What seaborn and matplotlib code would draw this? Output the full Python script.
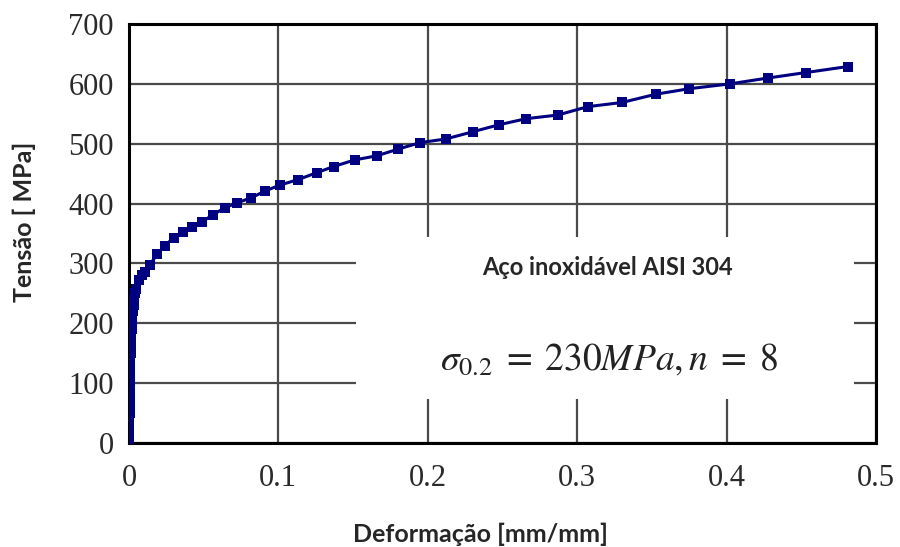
import numpy as np
import pandas as pd
import seaborn as sns
import matplotlib.pyplot as plt
from matplotlib.patches import Rectangle

# Curva tensão-deformação
deformacao = [0, 0.0001, 0.0002, 0.0002, 0.0003, 0.0004, 0.0004, 0.0005, 0.0006,
              0.0006, 0.0007, 0.0008, 0.0008, 0.0009, 0.0010, 0.0011, 0.0012,
              0.0013, 0.0015, 0.0017, 0.0020, 0.0023, 0.0027, 0.0031, 0.0036,
              0.0042, 0.005, 0.007, 0.009, 0.011, 0.014, 0.019,
              0.024, 0.030, 0.036, 0.042, 0.049, 0.056, 0.064, 0.072, 0.082,
              0.091, 0.101, 0.113, 0.126, 0.137, 0.151, 0.166, 0.180, 0.195,
              0.212, 0.230, 0.248, 0.266, 0.287, 0.307, 0.330, 0.353, 0.375,
              0.402, 0.428, 0.453, 0.481]
tensao = [0, 10, 20, 30, 40, 50, 60, 70, 80, 90, 100, 110, 120, 130, 140, 150,
          160, 170, 180, 190, 200, 210, 220, 230, 240, 250, 258, 272, 280,
          286, 298, 316, 330, 343, 353, 361, 370, 381, 393, 401, 410, 421, 431,
          440, 452, 462, 473, 480, 491, 502, 508, 520, 532, 542, 548, 562, 569,
          583, 592, 600, 610, 619, 629]

xticks = [0, 0.1, 0.2, 0.3, 0.4, 0.5]
xtick_labels = ["0", "0.1", "0.2", "0.3", "0.4", "0.5"]
yticks = [0, 100, 200, 300, 400, 500, 600, 700]

df = pd.DataFrame({"deformacao": deformacao, "tensao": tensao})

sns.set_style("white")
plt.rcParams["mathtext.fontset"] = "stix"

fig = plt.figure(figsize=(9, 5.47), dpi=100)
ax = fig.add_axes([0.1433, 0.190, 0.83, 0.766])

sns.lineplot(data=df, x="deformacao", y="tensao", ax=ax, color="#000080",
             marker="s", markersize=7.5, markeredgewidth=0, linewidth=2.2,
             estimator=None, zorder=3)

ax.set_xlim(0, 0.5)
ax.set_ylim(0, 700)
ax.set_xticks(xticks)
ax.set_xticklabels(xtick_labels)
ax.set_yticks(yticks)

ax.set_axisbelow(True)
ax.grid(True, color="#4a4a4a", linewidth=1.6)
for s in ax.spines.values():
    s.set_color("black")
    s.set_linewidth(2.2)

ax.tick_params(axis="both", direction="out", length=7, width=1.2, color="#777777",
               labelsize=22, labelcolor="#2a2a2a")
ax.tick_params(axis="x", pad=8)
ax.tick_params(axis="y", pad=4)
for lab in ax.get_xticklabels() + ax.get_yticklabels():
    lab.set_family("Liberation Serif")

# caixa branca que cobre a grade
ax.add_patch(Rectangle((0.152, 74), 0.333, 270, facecolor="white",
                       edgecolor="none", zorder=1))

ax.text(0.320, 293, "Aço inoxidável AISI 304", family="Lato", fontweight="bold",
        fontsize=17, ha="center", va="center", zorder=4)
ax.text(0.321, 139, r"$\sigma_{0.2}\;=\;230MPa, n\;=\;8$", fontsize=27,
        color="#222222", ha="center", va="center", zorder=4)

ax.set_xlabel("Deformação [mm/mm]", family="Lato", fontweight="bold",
              fontsize=18)
ax.set_ylabel("Tensão [ MPa]", family="Lato", fontweight="bold",
              fontsize=18)
ax.xaxis.set_label_coords(0.471, -0.19)
ax.yaxis.set_label_coords(-0.125, 0.527)

fig.savefig("out.png", dpi=100, facecolor="white")
